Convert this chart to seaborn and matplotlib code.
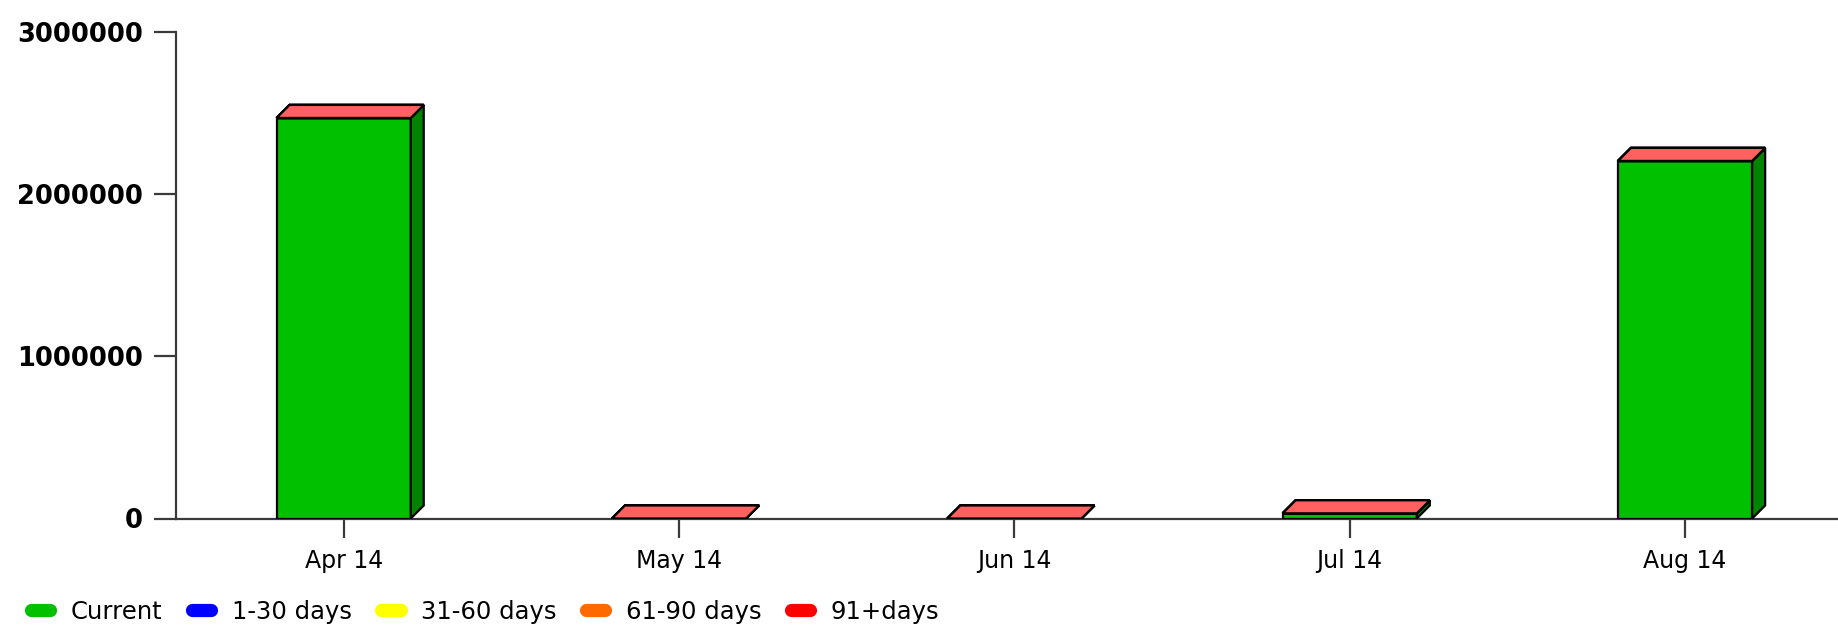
import numpy as np
import pandas as pd
import matplotlib
matplotlib.use("Agg")
import matplotlib.pyplot as plt
from matplotlib.patches import Polygon
from matplotlib.lines import Line2D
from matplotlib.ticker import FixedLocator, StrMethodFormatter
import seaborn as sns

# ---- data -------------------------------------------------------------
months = ["Apr 14", "May 14", "Jun 14", "Jul 14", "Aug 14"]
series_names = ["Current", "1-30 days", "31-60 days", "61-90 days", "91+days"]
current = [2470000, 0, 0, 32000, 2205000]
days_1_30 = [0, 0, 0, 0, 0]
days_31_60 = [0, 0, 0, 0, 0]
days_61_90 = [0, 0, 0, 0, 0]
days_91_plus = [0, 0, 0, 0, 0]
y_ticks = [0, 1000000, 2000000, 3000000]

# ---- styles -----------------------------------------------------------
front_colors = ["#00c000", "#0000ff", "#ffff00", "#ff6a00", "#ff0000"]
side_colors = ["#008400", "#0000a8", "#a8a800", "#a84600", "#a80000"]
top_colors = ["#60ff60", "#6060ff", "#ffff80", "#ff9a60", "#ff6060"]
legend_colors = ["#00c000", "#0000ff", "#ffff00", "#ff6a00", "#ff0000"]
axis_color = "#3a3a3a"

df = pd.DataFrame({
    "month": months,
    "Current": current,
    "1-30 days": days_1_30,
    "31-60 days": days_31_60,
    "61-90 days": days_61_90,
    "91+days": days_91_plus,
})

sns.set_style("white")
plt.rcParams["font.family"] = ["DejaVu Sans"]
plt.rcParams["text.color"] = "black"
plt.rcParams["xtick.labelcolor"] = "black"
plt.rcParams["ytick.labelcolor"] = "black"

W, H = 1838, 627
fig = plt.figure(figsize=(W / 100, H / 100), dpi=100)
ax = fig.add_axes([176 / W, 108.5 / H, 1 - 176 / W, (518.5 - 32) / H])

# stacked front faces
bottom = np.zeros(len(months))
containers = []
for name, col in zip(series_names, front_colors):
    vals = df[name].to_numpy(dtype=float)
    sns.barplot(data=df, x="month", y=name, bottom=bottom.copy(), color=col,
                saturation=1, width=0.4, errorbar=None, edgecolor="black",
                linewidth=1.6, ax=ax, zorder=3)
    containers.append(ax.containers[-1])
    bottom += vals

ax.set_xlim(-0.5, 4.456)
ax.set_ylim(0, 3000000)

# depth of the 3-D extrusion (pixels -> data units)
depth_px = 13
p0 = ax.transData.transform((0, 0))
p1 = ax.transData.transform((1, 1000000))
dx = depth_px / (p1[0] - p0[0])
dy = depth_px * 1000000 / (p1[1] - p0[1])

# side faces for every non-empty segment
for cont, scol in zip(containers, side_colors):
    for rect in cont.patches:
        x0, y0 = rect.get_x(), rect.get_y()
        w, h = rect.get_width(), rect.get_height()
        if h <= 0:
            continue
        xr = x0 + w
        ax.add_patch(Polygon([(xr, y0), (xr + dx, y0 + dy), (xr + dx, y0 + h + dy), (xr, y0 + h)],
                             closed=True, facecolor=scol, edgecolor="black",
                             linewidth=1.6, zorder=4, joinstyle="miter"))

# top faces, drawn in stacking order so the last series caps the column
for cont, tcol in zip(containers, top_colors):
    for rect in cont.patches:
        x0, y0 = rect.get_x(), rect.get_y()
        w, h = rect.get_width(), rect.get_height()
        t = y0 + h
        ax.add_patch(Polygon([(x0, t), (x0 + dx, t + dy), (x0 + w + dx, t + dy), (x0 + w, t)],
                             closed=True, facecolor=tcol, edgecolor="black",
                             linewidth=1.6, zorder=5, joinstyle="miter"))

# ---- axes cosmetics ---------------------------------------------------
for side in ("top", "right"):
    ax.spines[side].set_visible(False)
for side in ("left", "bottom"):
    ax.spines[side].set_color(axis_color)
    ax.spines[side].set_linewidth(1.6)
    ax.spines[side].set_zorder(2)

ax.yaxis.set_major_locator(FixedLocator(y_ticks))
ax.yaxis.set_major_formatter(StrMethodFormatter("{x:.0f}"))
ax.tick_params(axis="y", direction="out", length=16, width=1.6, color=axis_color,
               pad=8, labelsize=18.5, labelcolor="black", left=True)
ax.tick_params(axis="x", direction="out", length=14, width=1.6, color=axis_color,
               pad=8, labelsize=17, labelcolor="black", bottom=True)
for lab in ax.get_yticklabels():
    lab.set_fontweight("bold")
ax.set_xlabel("")
ax.set_ylabel("")
ax.grid(False)
ax.set_facecolor("white")

# ---- legend -----------------------------------------------------------
handles = [Line2D([0], [0], color=c, lw=9.5, solid_capstyle="round")
           for c in legend_colors]
leg = fig.legend(handles, series_names, loc="center left",
                 bbox_to_anchor=(31 / W, 1 - 612 / H), bbox_transform=fig.transFigure,
                 ncol=5, frameon=False, fontsize=17.5, handlelength=0.8,
                 handletextpad=0.85, columnspacing=1.2, borderpad=0, borderaxespad=0)
for txt in leg.get_texts():
    txt.set_color("black")

fig.savefig("out.png", dpi=100, facecolor="white")
